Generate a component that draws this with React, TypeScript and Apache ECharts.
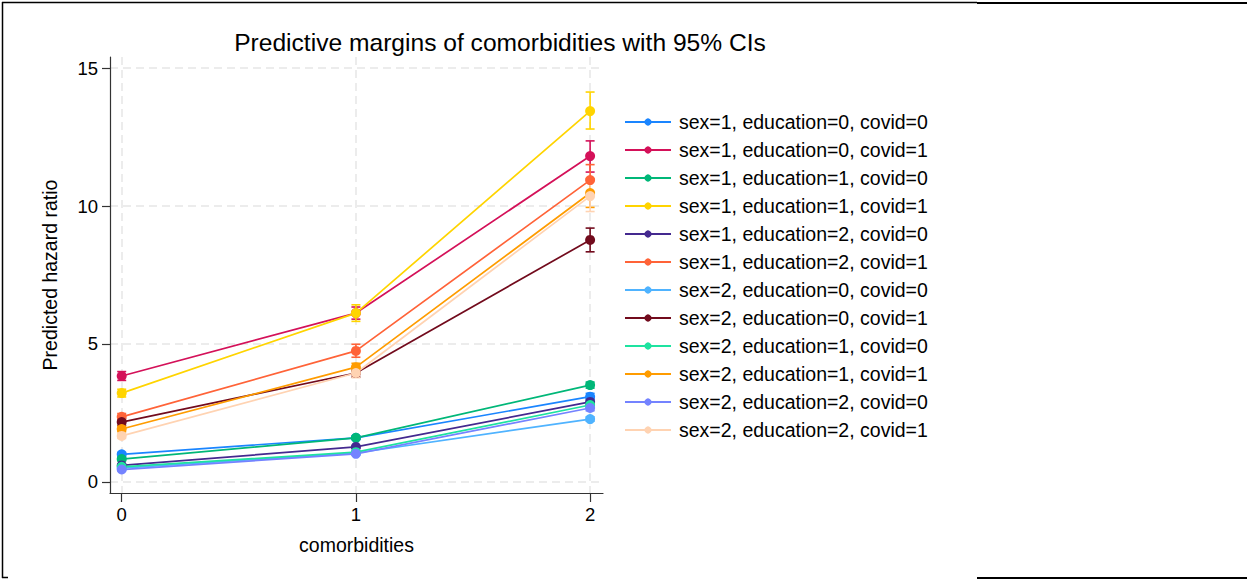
import React, { useEffect, useRef } from "react";
import * as echarts from "echarts";

const comorbidities = [0, 1, 2];
const seriesNames = [
  "sex=1, education=0, covid=0",
  "sex=1, education=0, covid=1",
  "sex=1, education=1, covid=0",
  "sex=1, education=1, covid=1",
  "sex=1, education=2, covid=0",
  "sex=1, education=2, covid=1",
  "sex=2, education=0, covid=0",
  "sex=2, education=0, covid=1",
  "sex=2, education=1, covid=0",
  "sex=2, education=1, covid=1",
  "sex=2, education=2, covid=0",
  "sex=2, education=2, covid=1",
];
const colors = [
  "#1a85ff", "#d41159", "#00b778", "#ffd400", "#44298f", "#ff6338",
  "#4fb3ff", "#720b1d", "#1ee3a0", "#ff9c00", "#7483ff", "#ffd3b2",
];
const estimates = [
  [1.0, 1.6, 3.09],
  [3.84, 6.12, 11.81],
  [0.83, 1.6, 3.51],
  [3.22, 6.12, 13.44],
  [0.6, 1.27, 2.9],
  [2.36, 4.75, 10.94],
  [0.5, 1.05, 2.28],
  [2.17, 3.95, 8.77],
  [0.55, 1.08, 2.79],
  [1.92, 4.16, 10.47],
  [0.45, 1.02, 2.68],
  [1.67, 3.95, 10.36],
];
const lower = [
  [0.93, 1.54, 2.97],
  [3.68, 5.9, 11.23],
  [0.77, 1.55, 3.4],
  [3.08, 5.82, 12.79],
  [0.55, 1.22, 2.79],
  [2.24, 4.52, 10.38],
  [0.46, 1.01, 2.2],
  [2.05, 3.8, 8.34],
  [0.51, 1.04, 2.7],
  [1.82, 4.02, 9.95],
  [0.41, 0.98, 2.58],
  [1.58, 3.78, 9.8],
];
const upper = [
  [1.07, 1.66, 3.21],
  [4.0, 6.34, 12.36],
  [0.89, 1.65, 3.62],
  [3.36, 6.42, 14.13],
  [0.65, 1.32, 3.01],
  [2.48, 4.99, 11.5],
  [0.54, 1.09, 2.36],
  [2.29, 4.1, 9.2],
  [0.59, 1.12, 2.88],
  [2.02, 4.3, 10.99],
  [0.49, 1.06, 2.78],
  [1.76, 4.12, 10.92],
];
const xTicks = [0, 1, 2];
const yTicks = [0, 5, 10, 15];

const FONT = "Liberation Sans, Arial, sans-serif";

export default function App() {
  const ref = useRef<HTMLDivElement>(null);
  useEffect(() => {
    if (!ref.current) return;
    const chart = echarts.init(ref.current, undefined, { renderer: "svg" });
    const series: any[] = [];
    seriesNames.forEach((name, i) => {
      series.push({
        type: "custom",
        name: "ci-" + i,
        data: comorbidities.map((x, j) => [x, lower[i][j], upper[i][j]]),
        encode: { x: 0, y: [1, 2] },
        z: 2,
        silent: true,
        renderItem: (params: any, api: any) => {
          const x = api.value(0);
          const lo = api.coord([x, api.value(1)]);
          const hi = api.coord([x, api.value(2)]);
          const hw = 4.5;
          const style = { stroke: colors[i], lineWidth: 1.6 };
          return {
            type: "group",
            children: [
              { type: "line", shape: { x1: lo[0], y1: lo[1], x2: hi[0], y2: hi[1] }, style },
              { type: "line", shape: { x1: lo[0] - hw, y1: lo[1], x2: lo[0] + hw, y2: lo[1] }, style },
              { type: "line", shape: { x1: hi[0] - hw, y1: hi[1], x2: hi[0] + hw, y2: hi[1] }, style },
            ],
          };
        },
      });
      series.push({
        type: "line",
        name,
        data: comorbidities.map((x, j) => [x, estimates[i][j]]),
        symbol: "circle",
        symbolSize: 10,
        z: 3,
        lineStyle: { color: colors[i], width: 1.7 },
        itemStyle: { color: colors[i] },
      });
    });

    chart.setOption({
      animation: false,
      backgroundColor: "#ffffff",
      textStyle: { fontFamily: FONT },
      title: {
        text: "Predictive margins of comorbidities with 95% CIs",
        left: 495,
        top: 25,
        textAlign: "center",
        textStyle: { fontFamily: FONT, fontSize: 24.6, fontWeight: "normal", color: "#000" },
      },
      grid: { left: 110, top: 57, width: 493, height: 436, containLabel: false },
      xAxis: {
        type: "value",
        min: -0.05,
        max: 2.055,
        name: "comorbidities",
        nameLocation: "middle",
        nameGap: 42,
        nameTextStyle: { fontFamily: FONT, fontSize: 19.5, color: "#000" },
        axisLine: { show: true, onZero: false, lineStyle: { color: "#333", width: 1.2 } },
        axisTick: { show: true, length: 9, customValues: xTicks, lineStyle: { color: "#333", width: 1.2 } },
        axisLabel: { customValues: xTicks, fontSize: 18.5, color: "#000", margin: 12, fontFamily: FONT },
        splitLine: { show: true, lineStyle: { color: "#e6e6e6", type: [8, 5], width: 1.5 } },
      },
      yAxis: {
        type: "value",
        min: -0.4,
        max: 15.4,
        name: "Predicted hazard ratio",
        nameLocation: "middle",
        nameGap: 50,
        nameTextStyle: { fontFamily: FONT, fontSize: 19.5, color: "#000" },
        axisLine: { show: true, onZero: false, lineStyle: { color: "#333", width: 1.2 } },
        axisTick: { show: true, length: 8, customValues: yTicks, lineStyle: { color: "#333", width: 1.2 } },
        axisLabel: { customValues: yTicks, fontSize: 18.5, color: "#000", margin: 12, fontFamily: FONT },
        splitLine: { show: true, lineStyle: { color: "#e6e6e6", type: [8, 5], width: 1.5 } },
      },
      legend: {
        data: seriesNames,
        orient: "vertical",
        left: 619,
        top: 107,
        itemWidth: 46,
        itemHeight: 9,
        itemGap: 8,
        textStyle: { fontFamily: FONT, fontSize: 19.5, color: "#000", lineHeight: 18, padding: [0, 0, 0, 3] },
      },
      graphic: [
        { type: "line", shape: { x1: 2, y1: 2.5, x2: 977, y2: 2.5 }, style: { stroke: "#000", lineWidth: 1.5 } },
        { type: "line", shape: { x1: 977, y1: 3, x2: 1247, y2: 3 }, style: { stroke: "#000", lineWidth: 2 } },
        { type: "line", shape: { x1: 2.5, y1: 2, x2: 2.5, y2: 578 }, style: { stroke: "#000", lineWidth: 1.5 } },
        { type: "line", shape: { x1: 2, y1: 577.5, x2: 8, y2: 577.5 }, style: { stroke: "#000", lineWidth: 1.5 } },
        { type: "line", shape: { x1: 977, y1: 578, x2: 1247, y2: 578 }, style: { stroke: "#000", lineWidth: 2 } },
      ],
      series,
    });
    return () => chart.dispose();
  }, []);
  return (
    <div
      ref={ref}
      style={{ position: "fixed", left: 0, top: 0, width: 1247, height: 580 }}
    />
  );
}
